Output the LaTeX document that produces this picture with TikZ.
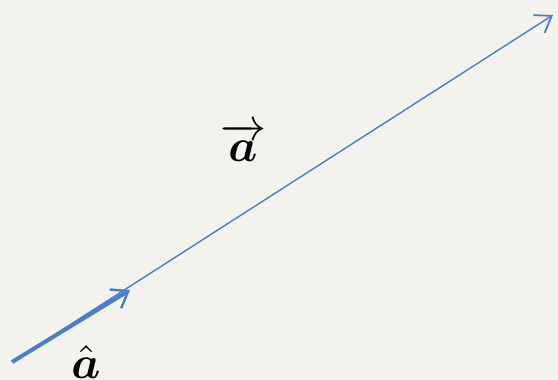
\documentclass[tikz,border=0pt]{standalone}
\usepackage{amsmath,bm}
\usetikzlibrary{arrows.meta}
\definecolor{bg}{HTML}{F3F2EC}
\definecolor{vblue}{HTML}{4A7EC8}
\begin{document}
\begin{tikzpicture}[x=1pt,y=-1pt,
  vecline/.style={draw=vblue,line width=1.4pt,-{Straight Barb[length=15pt,width=21pt,line width=1.8pt]}},
  unitline/.style={draw=vblue,line width=4pt,-{Straight Barb[length=15pt,width=22pt,line width=2.4pt]}},
  lab/.style={inner sep=0pt,anchor=base,scale=4.6}]
\fill[bg] (0,0) rectangle (558,380);
\useasboundingbox (0,0) rectangle (558,380);
\coordinate (o) at (12,362);
\coordinate (v) at (553,15);
\coordinate (u) at (130,290);
\draw[vecline] (o) -- (v);
\draw[unitline] (o) -- (u);
\node[lab] (va) at (243,161) {$\overrightarrow{\bm{a}}$};
\node[lab] (ua) at (86,378) {$\hat{\bm{a}}$};
\end{tikzpicture}
\end{document}
